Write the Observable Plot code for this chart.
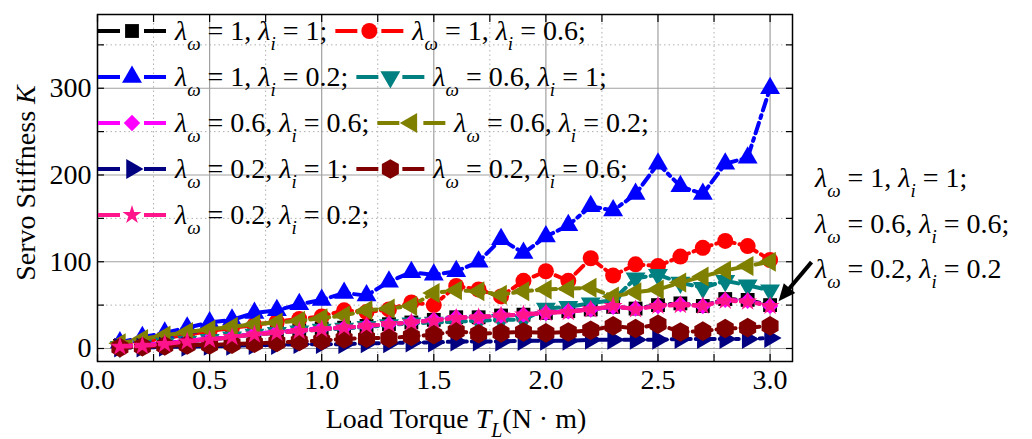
<!DOCTYPE html>
<html><head><meta charset="utf-8">
<script src="https://cdn.jsdelivr.net/npm/d3@7"></script>
<script src="https://cdn.jsdelivr.net/npm/@observablehq/plot@0.6"></script>
<style>
body{margin:0;background:#fff}
svg{font-family:"Liberation Serif","Times New Roman",serif;display:block}
text{white-space:pre}
</style>
</head><body><div id="chart"></div><script>
// ---- data ----
const torque = [0.1,0.2,0.3,0.4,0.5,0.6,0.7,0.8,0.9,1.0,1.1,1.2,1.3,1.4,1.5,1.6,1.7,1.8,1.9,2.0,2.1,2.2,2.3,2.4,2.5,2.6,2.7,2.8,2.9,3.0];
const kW1I1   = [3,4,6,9,11,13,17,19,21,23,24,26,28,30,33,36,36,38,39,41,43,45,48,46,50,52,49,57,56,50];
const kW1I06  = [4,8,12,16,20,24,27,31,34,37,44,42,45,53,50,72,68,60,78,89,78,104,84,97,95,106,116,124,118,102];
const kW1I02  = [7,13,18,24,30,33,41,44,51,56,64,61,77,88,85,89,100,126,110,129,142,164,159,178,213,187,178,213,220,300];
const kW06I1  = [2,4,6,8,10,13,16,18,20,22,23,25,27,29,30,31,32,33,33,46,48,52,56,81,85,76,70,78,73,67];
const kW06I06 = [3,4,6,9,11,13,17,19,21,23,24,26,28,30,33,36,36,38,39,41,43,45,48,46,49,51,49,56,55,49];
const kW06I02 = [6,11,15,19,22,25,28,30,32,35,38,44,46,49,64,67,66,62,66,68,69,70,60,65,68,76,83,90,95,100];
const kW02I1  = [1,1,2,2,3,3,4,4,5,5,5,6,6,7,7,8,8,8,9,9,9,10,10,10,10,11,11,11,11,12];
const kW02I06 = [1,2,3,4,4,5,6,7,8,9,11,12,12,14,16,20,17,18,19,18,19,21,26,23,28,19,20,23,24,26];
const kW02I02 = [2,3,5,8,10,13,16,18,20,22,24,26,28,30,32,35,36,38,39,41,42,45,49,45,49,50,49,55,54,49];
const lambdaW = ["1","1","1","0.6","0.6","0.6","0.2","0.2","0.2"];
const lambdaI = ["1","0.6","0.2","1","0.6","0.2","1","0.6","0.2"];
const seriesValues = [kW1I1,kW1I06,kW1I02,kW06I1,kW06I06,kW06I02,kW02I1,kW02I06,kW02I02];
const xTicks = [0,0.25,0.5,0.75,1,1.25,1.5,1.75,2,2.25,2.5,2.75,3];
const xMajor = [0,0.5,1,1.5,2,2.5,3];
const xMinor = [0.25,0.75,1.25,1.75,2.25,2.75];
const yTicks = [0,50,100,150,200,250,300,350];
const yMajor = [0,100,200,300];
const yMinor = [50,150,250,350];
const noteLines = [["1","1",";"],["0.6","0.6",";"],["0.2","0.2",""]];

// ---- styles ----
const styles = [
  {color:"#000000", symbol:"square",   r:7.8, rotate:0},
  {color:"#ff0000", symbol:"circle",   r:8,   rotate:0},
  {color:"#0000ff", symbol:"triangle", r:7.4, rotate:0},
  {color:"#008080", symbol:"triangle", r:7.4, rotate:180},
  {color:"#ff00ff", symbol:"diamond2", r:7.4, rotate:0},
  {color:"#808000", symbol:"triangle", r:7.4, rotate:-90},
  {color:"#000080", symbol:"triangle", r:7.4, rotate:90},
  {color:"#800000", symbol:"hexagon",  r:8.5, rotate:0},
  {color:"#ff148c", symbol:"star",     r:6,   rotate:0}
];

const series = seriesValues.map((vals, s) => vals.map((k, j) => ({x: torque[j], k, s})));

const marks = [
  Plot.gridX(xMinor, {stroke:"#b0b0b0", strokeOpacity:1, strokeDasharray:"1.5,3"}),
  Plot.gridY(yMinor, {stroke:"#b0b0b0", strokeOpacity:1, strokeDasharray:"1.5,3"}),
  Plot.gridX(xMajor, {stroke:"#a0a0a0", strokeOpacity:1, strokeWidth:1.2}),
  Plot.gridY(yMajor, {stroke:"#a0a0a0", strokeOpacity:1, strokeWidth:1.2}),
];
series.forEach((rows, s) => {
  const st = styles[s];
  marks.push(Plot.line(rows, {x:"x", y:"k", stroke:st.color, strokeWidth:4, strokeDasharray:"11,5,3,5", curve:"linear"}));
  marks.push(Plot.dot(rows, {x:"x", y:"k", symbol:st.symbol, r:st.r, fill:st.color, stroke:"none", rotate:st.rotate}));
});
marks.push(
  Plot.axisX({ticks:xTicks, anchor:"bottom", tickSize:-7, tickFormat:()=>"", label:null, strokeWidth:1.2}),
  Plot.axisX({ticks:xTicks, anchor:"top", tickSize:-7, tickFormat:()=>"", label:null, strokeWidth:1.2}),
  Plot.axisY({ticks:yTicks, anchor:"left", tickSize:-7, tickFormat:()=>"", label:null, strokeWidth:1.2}),
  Plot.axisY({ticks:yTicks, anchor:"right", tickSize:-7, tickFormat:()=>"", label:null, strokeWidth:1.2}),
  Plot.axisX({ticks:xMajor, anchor:"bottom", tickSize:0, tickPadding:8, tickFormat:d=>d.toFixed(1), label:null, fill:"#000"}),
  Plot.axisY({ticks:yMajor, anchor:"left", tickSize:0, tickPadding:6, tickFormat:d=>String(d), label:null, fill:"#000"}),
  Plot.frame({stroke:"#000", strokeWidth:1.5})
);

const plot = Plot.plot({
  width:1032, height:439,
  marginLeft:97, marginRight:240, marginTop:14, marginBottom:78,
  x:{domain:[0,3.1]},
  y:{domain:[-15,385]},
  style:{fontSize:"28px", fontFamily:"'Liberation Serif','Times New Roman',serif", color:"#000", background:"#fff", overflow:"visible"},
  marks
});
document.getElementById("chart").append(plot);

// ---- annotations (text with sub-scripts, legend, arrow) ----
const svg = d3.select(plot);
const xs = plot.scale("x"), ys = plot.scale("y");

function lambdaText(g, x, y, w, i, tail, size) {
  const sub = Math.round(size*0.68), sh = Math.round(size*0.37);
  const t = g.append("text").attr("x", x).attr("y", y).attr("font-size", size).attr("fill", "#000").attr("text-anchor","start");
  t.append("tspan").attr("font-style","italic").text("λ");
  t.append("tspan").attr("font-style","italic").attr("font-size", sub).attr("dy", sh).text("ω");
  t.append("tspan").attr("dy", -sh).text(" = " + w + ", ");
  t.append("tspan").attr("font-style","italic").text("λ");
  t.append("tspan").attr("font-style","italic").attr("font-size", sub).attr("dy", sh).text("i");
  t.append("tspan").attr("dy", -sh).text(" = " + i + tail);
  return t;
}

// legend
const dotGroups = svg.selectAll("g[aria-label='dot']").nodes();
const leg = svg.append("g");
const rowOf = [0,0,1,1,2,2,3,3,4];
let cursor = 0;
for (let s = 0; s < 9; s++) {
  const row = rowOf[s], col = s % 2;
  const cy = 31 + 46 * row;
  const sx = col === 0 ? 98 : cursor + 8;
  const st = styles[s];
  leg.append("line").attr("x1", sx).attr("x2", sx+22).attr("y1", cy).attr("y2", cy).attr("stroke", st.color).attr("stroke-width", 4);
  leg.append("line").attr("x1", sx+46).attr("x2", sx+68).attr("y1", cy).attr("y2", cy).attr("stroke", st.color).attr("stroke-width", 4);
  const src = dotGroups[s] && dotGroups[s].querySelector("path, circle");
  if (src) {
    const c = src.cloneNode(true);
    if (c.tagName.toLowerCase() === "circle") {
      c.setAttribute("cx", sx+34); c.setAttribute("cy", cy); c.removeAttribute("transform");
    } else {
      c.setAttribute("transform", `translate(${sx+34},${cy})` + (st.rotate ? ` rotate(${st.rotate})` : ""));
    }
    c.setAttribute("fill", st.color);
    leg.node().append(c);
  }
  const t = lambdaText(leg, sx+77, cy+8.5, lambdaW[s], lambdaI[s], ";", 28);
  const bb = t.node().getBBox();
  cursor = bb.x + bb.width;
}

// right note
const note = svg.append("g");
noteLines.forEach((l, k) => lambdaText(note, 815, 187 + 45.5*k, l[0], l[1], l[2], 28));

// arrow (tail -> tip near the last overlapping points)
const tail = [xs.apply(3.187), ys.apply(99)], tip = [xs.apply(3.04), ys.apply(54)];
const dx = tip[0]-tail[0], dy = tip[1]-tail[1], len = Math.hypot(dx, dy), ux = dx/len, uy = dy/len;
const hl = 17, hw = 7.5;
const base = [tip[0]-hl*ux, tip[1]-hl*uy];
svg.append("line").attr("x1", tail[0]).attr("y1", tail[1]).attr("x2", base[0]+2*ux).attr("y2", base[1]+2*uy).attr("stroke","#000").attr("stroke-width",4);
svg.append("path").attr("d", `M${tip[0]},${tip[1]}L${base[0]+hw*uy},${base[1]-hw*ux}L${base[0]-hw*uy},${base[1]+hw*ux}Z`).attr("fill","#000");

// axis labels
const yl = svg.append("text").attr("transform","translate(35,183) rotate(-90)").attr("text-anchor","middle").attr("font-size",28).attr("fill","#000");
yl.append("tspan").text("Servo Stiffness ");
yl.append("tspan").attr("font-style","italic").text("K");
const xl = svg.append("text").attr("x",456).attr("y",428).attr("text-anchor","middle").attr("font-size",28).attr("fill","#000");
xl.append("tspan").text("Load Torque ");
xl.append("tspan").attr("font-style","italic").text("T");
xl.append("tspan").attr("font-style","italic").attr("font-size",20).attr("dy",9).text("L");
xl.append("tspan").attr("dy",-9).text("(N · m)");
</script></body></html>
